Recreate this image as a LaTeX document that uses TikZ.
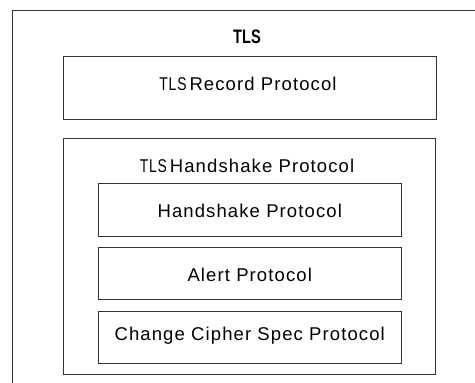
\documentclass[tikz,border=0pt]{standalone}
\usepackage{fontspec}
\setmainfont{Liberation Sans}
\newfontfamily\spaced[LetterSpace=6]{Liberation Sans}
\newcommand{\tls}{\scalebox{0.75}[1]{TLS}}
\begin{document}
\begin{tikzpicture}[x=1pt,y=-1pt,
  frame/.style={draw=black!80,line width=1pt},
  box/.style={frame,inner sep=0pt,minimum width=#1},
  lbl/.style={anchor=base,inner sep=0pt,font=\fontsize{18.5}{20}\spaced}
]
\useasboundingbox (0,0) rectangle (475,383);
% open outer frame
\coordinate (ob) at (12,383);
\coordinate (otl) at (12,10);
\coordinate (or) at (475,10);
\draw[frame] (ob) -- (otl) -- (or);
\node[lbl,font=\fontsize{19.5}{20}\bfseries] (title) at (247,43) {\tls};
% record layer
\node[box=373pt,minimum height=63pt] (rec) at (249.5,87.5) {};
\node[lbl] (recl) at (248,90) {\tls\hspace{3pt}Record Protocol};
% handshake layer
\node[box=372pt,minimum height=236pt] (hs) at (249.5,256) {};
\node[lbl] (hsl) at (247,172) {\tls\hspace{3pt}Handshake Protocol};
\node[box=302.5pt,minimum height=53pt] (hsp) at (249.75,209.5) {};
\node[lbl] (hspl) at (249.75,217) {Handshake Protocol};
\node[box=302.5pt,minimum height=52pt] (alert) at (249.75,273) {};
\node[lbl] (alertl) at (249.75,281) {Alert Protocol};
\node[box=302.5pt,minimum height=52pt] (ccs) at (249.75,337) {};
\node[lbl] (ccsl) at (249.75,340) {Change Cipher Spec Protocol};
\end{tikzpicture}
\end{document}
